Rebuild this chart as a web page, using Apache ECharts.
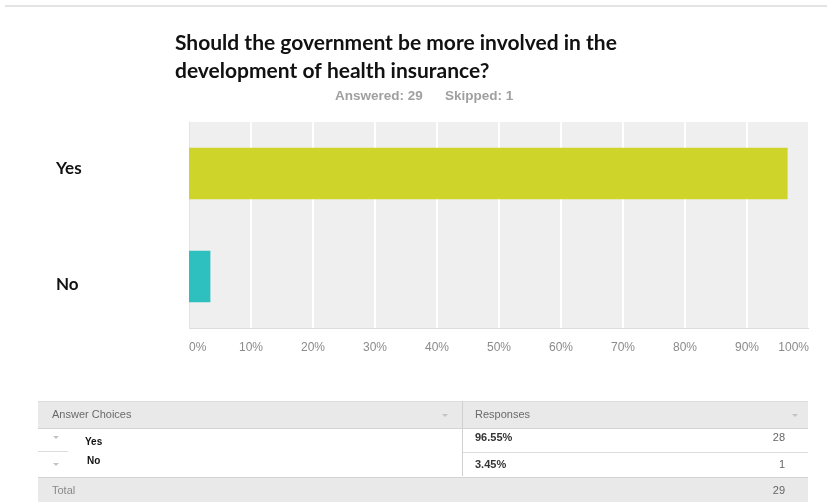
<!DOCTYPE html>
<html>
<head>
<meta charset="utf-8">
<title>Government involvement in health insurance</title>
<script src="https://cdn.jsdelivr.net/npm/echarts@6/dist/echarts.min.js"></script>
<style>
  html, body { margin: 0; padding: 0; background: #fff; }
  #chart { width: 827px; height: 502px; }
</style>
</head>
<body>
<div id="chart"></div>
<script>
// Survey question and response data
const questionLines = ['Should the government be more involved in the', 'development of health insurance?'];
const answerChoices = ['Yes', 'No'];
const responsePercents = [96.55, 3.45];
const responseCounts = [28, 1];
const answeredCount = 29;
const skippedCount = 1;
const tickPercents = [0, 10, 20, 30, 40, 50, 60, 70, 80, 90, 100];

// Bar fill per answer choice
const barColors = ['#cfd42a', '#2ebfbf'];

const chart = echarts.init(document.getElementById('chart'), null, { renderer: 'canvas' });

const gridLeft = 189, gridTop = 122, gridWidth = 620, gridHeight = 206;
const tableLeft = 38, tableRight = 808, colSplit = 462;
const headerTop = 402, headerH = 26, rowH = 24;

const totalCount = responseCounts.reduce((a, b) => a + b, 0);
const uiFont = '"Liberation Sans", Arial, sans-serif';
const headFont = 'Lato, "Open Sans", sans-serif';

// Table drawn as graphic elements beneath the chart
const tableEls = [];
// header band
tableEls.push({ type: 'rect', shape: { x: tableLeft, y: headerTop, width: tableRight - tableLeft, height: headerH },
  style: { fill: '#e9e9e9' } });
tableEls.push({ type: 'line', shape: { x1: tableLeft, y1: headerTop - 0.5, x2: tableRight, y2: headerTop - 0.5 },
  style: { stroke: '#dedede', lineWidth: 1 } });
tableEls.push({ type: 'line', shape: { x1: tableLeft, y1: headerTop + headerH + 0.5, x2: tableRight, y2: headerTop + headerH + 0.5 },
  style: { stroke: '#d4d4d4', lineWidth: 1 } });
tableEls.push({ type: 'line', shape: { x1: colSplit + 0.5, y1: headerTop - 1, x2: colSplit + 0.5, y2: headerTop + headerH + rowH * answerChoices.length },
  style: { stroke: '#d0d0d0', lineWidth: 1 } });
tableEls.push({ type: 'text', x: 52, y: headerTop + headerH / 2,
  style: { text: 'Answer Choices', fill: '#6a6a6a', font: '11px ' + uiFont, verticalAlign: 'middle' } });
tableEls.push({ type: 'text', x: 475, y: headerTop + headerH / 2,
  style: { text: 'Responses', fill: '#6a6a6a', font: '11px ' + uiFont, verticalAlign: 'middle' } });
[445, 795].forEach(function (ax) {
  tableEls.push({ type: 'polygon', shape: { points: [[ax - 3, headerTop + 12], [ax + 3, headerTop + 12], [ax, headerTop + 15]] },
    style: { fill: '#c4c4c4' } });
});

answerChoices.forEach(function (name, i) {
  const rowTop = headerTop + headerH + 1 + i * rowH;
  // small expander arrow
  tableEls.push({ type: 'polygon', shape: { points: [[53, rowTop + 7 + i * 3], [59, rowTop + 7 + i * 3], [56, rowTop + 10 + i * 3]] },
    style: { fill: '#c4c4c4' } });
  tableEls.push({ type: 'text', x: 85 + i * 2, y: rowTop + 13 - i * 5,
    style: { text: name, fill: '#111', font: 'bold 10px ' + uiFont, verticalAlign: 'middle' } });
  tableEls.push({ type: 'text', x: 475, y: rowTop + 9 + i * 3,
    style: { text: responsePercents[i].toFixed(2) + '%', fill: '#333', font: 'bold 11px ' + uiFont, verticalAlign: 'middle' } });
  tableEls.push({ type: 'text', x: 785, y: rowTop + 9 + i * 3,
    style: { text: String(responseCounts[i]), fill: '#666', font: '11px ' + uiFont, align: 'right', verticalAlign: 'middle' } });
  if (i < answerChoices.length - 1) {
    tableEls.push({ type: 'line', shape: { x1: colSplit + 1, y1: rowTop + rowH - 0.5, x2: tableRight, y2: rowTop + rowH - 0.5 },
      style: { stroke: '#dcdcdc', lineWidth: 1 } });
    tableEls.push({ type: 'line', shape: { x1: tableLeft, y1: rowTop + rowH - 1.5, x2: 68, y2: rowTop + rowH - 1.5 },
      style: { stroke: '#dcdcdc', lineWidth: 1 } });
  }
});

const totalTop = headerTop + headerH + 2 + rowH * answerChoices.length;
tableEls.push({ type: 'rect', shape: { x: tableLeft, y: totalTop, width: tableRight - tableLeft, height: 502 - totalTop },
  style: { fill: '#e9e9e9' } });
tableEls.push({ type: 'line', shape: { x1: tableLeft, y1: totalTop - 0.5, x2: tableRight, y2: totalTop - 0.5 },
  style: { stroke: '#d4d4d4', lineWidth: 1 } });
tableEls.push({ type: 'text', x: 52, y: totalTop + 13,
  style: { text: 'Total', fill: '#8a8a8a', font: '11px ' + uiFont, verticalAlign: 'middle' } });
tableEls.push({ type: 'text', x: 785, y: totalTop + 13,
  style: { text: String(totalCount), fill: '#666', font: '11px ' + uiFont, align: 'right', verticalAlign: 'middle' } });

const option = {
  backgroundColor: '#ffffff',
  animation: false,
  title: {
    text: questionLines.join('\n'),
    left: 170,
    top: 24,
    textStyle: { fontFamily: headFont, fontWeight: 'bold', fontSize: 21, lineHeight: 28, color: '#111' }
  },
  grid: {
    left: gridLeft, top: gridTop, width: gridWidth, height: gridHeight,
    show: true, backgroundColor: '#efefef', borderWidth: 0
  },
  xAxis: {
    type: 'value',
    min: 0, max: 100, interval: 10,
    axisLine: { show: false },
    axisTick: { show: false },
    splitLine: { show: true, lineStyle: { color: '#ffffff', width: 2 } },
    axisLabel: {
      margin: 14,
      color: '#8a8a8a',
      fontSize: 12,
      fontFamily: uiFont,
      alignMinLabel: 'left',
      alignMaxLabel: 'right',
      formatter: function (v) { return tickPercents.indexOf(v) >= 0 ? v + '%' : ''; }
    }
  },
  yAxis: {
    type: 'category',
    inverse: true,
    data: answerChoices,
    axisLine: { show: true, lineStyle: { color: '#e2e2e2', width: 1 } },
    axisTick: { show: false },
    axisLabel: {
      margin: 133,
      align: 'left',
      formatter: function (v, i) { return '{c' + i + '|' + v + '}'; },
      rich: {
        c0: { fontFamily: headFont, fontWeight: 'bold', fontSize: 17, color: '#111', padding: [0, 0, 10, 0] },
        c1: { fontFamily: headFont, fontWeight: 'bold', fontSize: 17, color: '#111', padding: [16, 0, 0, 0] }
      }
    }
  },
  series: [{
    type: 'bar',
    barWidth: '50%',
    data: responsePercents.map(function (v, i) { return { value: v, itemStyle: { color: barColors[i] } }; }),
    silent: true
  }],
  graphic: [
    { type: 'line', shape: { x1: 5, y1: 6, x2: 827, y2: 6 }, style: { stroke: '#e4e4e4', lineWidth: 2 } },
    { type: 'text', x: 335, y: 96,
      style: { text: 'Answered: ' + answeredCount, fill: '#a0a0a0',
        font: 'bold 13.5px ' + uiFont, verticalAlign: 'middle' } },
    { type: 'text', x: 445, y: 96,
      style: { text: 'Skipped: ' + skippedCount, fill: '#a0a0a0',
        font: 'bold 13.5px ' + uiFont, verticalAlign: 'middle' } },
    { type: 'line', shape: { x1: gridLeft, y1: gridTop + gridHeight + 0.5, x2: gridLeft + gridWidth, y2: gridTop + gridHeight + 0.5 },
      style: { stroke: '#dcdcdc', lineWidth: 1 } },
    { type: 'group', children: tableEls }
  ]
};

chart.setOption(option);
</script>
</body>
</html>
